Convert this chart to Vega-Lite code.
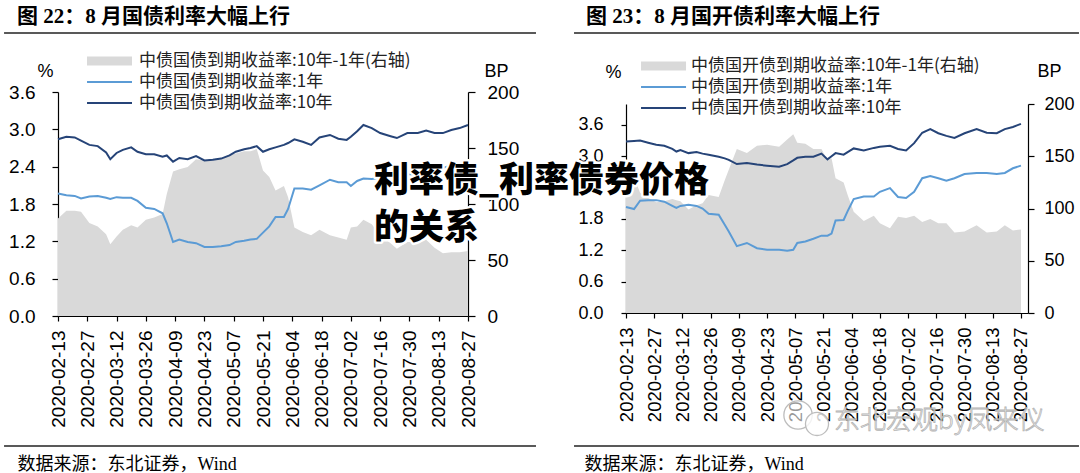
{
  "$schema": "https://vega.github.io/schema/vega-lite/v6.json",
  "background": "white",
  "padding": {"left": 3, "top": 6, "right": 0, "bottom": 0},
  "bounds": "flush",
  "spacing": 158,
  "config": {
    "view": {"stroke": null},
    "font": "Liberation Sans",
    "axis": {"grid": false, "domainColor": "#000", "tickColor": "#000", "labelColor": "#000", "labelFont": "Liberation Sans", "domainWidth": 1.2, "tickWidth": 1.2, "labelOverlap": false, "tickCount": 30},
    "axisX": {"labelOverlap": false, "labelFlush": false, "labelAngle": 270}
  },
  "datasets": {
    "gz": [
      {"d": "2020-02-13", "y1": 1.97, "y10": 2.84, "sp": 87},
      {"d": "2020-02-17", "y1": 1.94, "y10": 2.88, "sp": 94},
      {"d": "2020-02-21", "y1": 1.93, "y10": 2.87, "sp": 94},
      {"d": "2020-02-24", "y1": 1.89, "y10": 2.82, "sp": 93},
      {"d": "2020-02-28", "y1": 1.92, "y10": 2.75, "sp": 83},
      {"d": "2020-03-03", "y1": 1.93, "y10": 2.73, "sp": 80},
      {"d": "2020-03-07", "y1": 1.90, "y10": 2.63, "sp": 73},
      {"d": "2020-03-09", "y1": 1.88, "y10": 2.52, "sp": 64},
      {"d": "2020-03-12", "y1": 1.91, "y10": 2.62, "sp": 71},
      {"d": "2020-03-15", "y1": 1.90, "y10": 2.67, "sp": 77},
      {"d": "2020-03-19", "y1": 1.90, "y10": 2.71, "sp": 81},
      {"d": "2020-03-22", "y1": 1.85, "y10": 2.64, "sp": 79},
      {"d": "2020-03-26", "y1": 1.74, "y10": 2.60, "sp": 86},
      {"d": "2020-03-30", "y1": 1.72, "y10": 2.60, "sp": 88},
      {"d": "2020-04-03", "y1": 1.65, "y10": 2.56, "sp": 91},
      {"d": "2020-04-05", "y1": 1.49, "y10": 2.58, "sp": 109},
      {"d": "2020-04-08", "y1": 1.19, "y10": 2.48, "sp": 129},
      {"d": "2020-04-11", "y1": 1.23, "y10": 2.54, "sp": 131},
      {"d": "2020-04-15", "y1": 1.19, "y10": 2.52, "sp": 133},
      {"d": "2020-04-19", "y1": 1.17, "y10": 2.57, "sp": 140},
      {"d": "2020-04-23", "y1": 1.11, "y10": 2.50, "sp": 139},
      {"d": "2020-04-27", "y1": 1.11, "y10": 2.51, "sp": 140},
      {"d": "2020-05-01", "y1": 1.12, "y10": 2.53, "sp": 141},
      {"d": "2020-05-05", "y1": 1.14, "y10": 2.58, "sp": 144},
      {"d": "2020-05-08", "y1": 1.19, "y10": 2.64, "sp": 145},
      {"d": "2020-05-12", "y1": 1.21, "y10": 2.68, "sp": 147},
      {"d": "2020-05-15", "y1": 1.23, "y10": 2.70, "sp": 147},
      {"d": "2020-05-18", "y1": 1.24, "y10": 2.73, "sp": 149},
      {"d": "2020-05-21", "y1": 1.34, "y10": 2.64, "sp": 130},
      {"d": "2020-05-24", "y1": 1.44, "y10": 2.68, "sp": 124},
      {"d": "2020-05-27", "y1": 1.59, "y10": 2.71, "sp": 112},
      {"d": "2020-05-31", "y1": 1.59, "y10": 2.75, "sp": 116},
      {"d": "2020-06-02", "y1": 1.72, "y10": 2.78, "sp": 106},
      {"d": "2020-06-05", "y1": 2.05, "y10": 2.84, "sp": 79},
      {"d": "2020-06-09", "y1": 2.05, "y10": 2.80, "sp": 75},
      {"d": "2020-06-13", "y1": 2.03, "y10": 2.75, "sp": 72},
      {"d": "2020-06-17", "y1": 2.10, "y10": 2.87, "sp": 77},
      {"d": "2020-06-22", "y1": 2.19, "y10": 2.91, "sp": 72},
      {"d": "2020-06-26", "y1": 2.15, "y10": 2.85, "sp": 70},
      {"d": "2020-06-30", "y1": 2.15, "y10": 2.83, "sp": 68},
      {"d": "2020-07-02", "y1": 2.09, "y10": 2.88, "sp": 79},
      {"d": "2020-07-05", "y1": 2.17, "y10": 2.97, "sp": 80},
      {"d": "2020-07-08", "y1": 2.21, "y10": 3.07, "sp": 86},
      {"d": "2020-07-12", "y1": 2.20, "y10": 3.02, "sp": 82},
      {"d": "2020-07-16", "y1": 2.22, "y10": 2.94, "sp": 72},
      {"d": "2020-07-21", "y1": 2.24, "y10": 2.89, "sp": 65},
      {"d": "2020-07-24", "y1": 2.26, "y10": 2.86, "sp": 60},
      {"d": "2020-07-29", "y1": 2.28, "y10": 2.94, "sp": 66},
      {"d": "2020-08-03", "y1": 2.28, "y10": 2.94, "sp": 66},
      {"d": "2020-08-07", "y1": 2.30, "y10": 2.98, "sp": 68},
      {"d": "2020-08-11", "y1": 2.33, "y10": 2.94, "sp": 61},
      {"d": "2020-08-15", "y1": 2.38, "y10": 2.94, "sp": 56},
      {"d": "2020-08-19", "y1": 2.42, "y10": 2.99, "sp": 57},
      {"d": "2020-08-23", "y1": 2.45, "y10": 3.02, "sp": 57},
      {"d": "2020-08-27", "y1": 2.49, "y10": 3.07, "sp": 58}
    ],
    "gk": [
      {"d": "2020-02-13", "y1": 2.03, "y10": 3.28, "sp": 125},
      {"d": "2020-02-17", "y1": 1.99, "y10": 3.29, "sp": 130},
      {"d": "2020-02-20", "y1": 2.15, "y10": 3.30, "sp": 115},
      {"d": "2020-02-24", "y1": 2.16, "y10": 3.26, "sp": 110},
      {"d": "2020-02-28", "y1": 2.16, "y10": 3.22, "sp": 106},
      {"d": "2020-03-03", "y1": 2.13, "y10": 3.20, "sp": 107},
      {"d": "2020-03-07", "y1": 2.05, "y10": 3.14, "sp": 109},
      {"d": "2020-03-09", "y1": 2.01, "y10": 3.09, "sp": 108},
      {"d": "2020-03-11", "y1": 2.05, "y10": 3.12, "sp": 107},
      {"d": "2020-03-15", "y1": 2.07, "y10": 3.06, "sp": 99},
      {"d": "2020-03-19", "y1": 2.05, "y10": 3.08, "sp": 103},
      {"d": "2020-03-22", "y1": 2.00, "y10": 3.05, "sp": 105},
      {"d": "2020-03-25", "y1": 1.90, "y10": 3.03, "sp": 113},
      {"d": "2020-03-30", "y1": 1.88, "y10": 2.99, "sp": 111},
      {"d": "2020-04-02", "y1": 1.69, "y10": 2.96, "sp": 127},
      {"d": "2020-04-04", "y1": 1.56, "y10": 2.93, "sp": 137},
      {"d": "2020-04-08", "y1": 1.28, "y10": 2.85, "sp": 157},
      {"d": "2020-04-13", "y1": 1.34, "y10": 2.87, "sp": 153},
      {"d": "2020-04-18", "y1": 1.24, "y10": 2.84, "sp": 160},
      {"d": "2020-04-23", "y1": 1.21, "y10": 2.82, "sp": 161},
      {"d": "2020-04-29", "y1": 1.21, "y10": 2.80, "sp": 159},
      {"d": "2020-05-03", "y1": 1.19, "y10": 2.85, "sp": 166},
      {"d": "2020-05-06", "y1": 1.21, "y10": 2.92, "sp": 171},
      {"d": "2020-05-08", "y1": 1.34, "y10": 2.97, "sp": 163},
      {"d": "2020-05-12", "y1": 1.37, "y10": 2.99, "sp": 162},
      {"d": "2020-05-16", "y1": 1.42, "y10": 2.99, "sp": 157},
      {"d": "2020-05-20", "y1": 1.48, "y10": 3.05, "sp": 157},
      {"d": "2020-05-23", "y1": 1.48, "y10": 2.94, "sp": 146},
      {"d": "2020-05-25", "y1": 1.52, "y10": 3.00, "sp": 148},
      {"d": "2020-05-27", "y1": 1.77, "y10": 3.06, "sp": 129},
      {"d": "2020-05-31", "y1": 1.78, "y10": 3.03, "sp": 125},
      {"d": "2020-06-02", "y1": 1.95, "y10": 3.08, "sp": 113},
      {"d": "2020-06-05", "y1": 2.18, "y10": 3.15, "sp": 97},
      {"d": "2020-06-10", "y1": 2.23, "y10": 3.11, "sp": 88},
      {"d": "2020-06-15", "y1": 2.23, "y10": 3.16, "sp": 93},
      {"d": "2020-06-18", "y1": 2.32, "y10": 3.18, "sp": 86},
      {"d": "2020-06-23", "y1": 2.39, "y10": 3.20, "sp": 81},
      {"d": "2020-06-27", "y1": 2.22, "y10": 3.14, "sp": 92},
      {"d": "2020-07-01", "y1": 2.20, "y10": 3.11, "sp": 91},
      {"d": "2020-07-05", "y1": 2.32, "y10": 3.25, "sp": 93},
      {"d": "2020-07-09", "y1": 2.58, "y10": 3.45, "sp": 87},
      {"d": "2020-07-13", "y1": 2.62, "y10": 3.52, "sp": 90},
      {"d": "2020-07-17", "y1": 2.58, "y10": 3.44, "sp": 86},
      {"d": "2020-07-21", "y1": 2.53, "y10": 3.39, "sp": 86},
      {"d": "2020-07-25", "y1": 2.58, "y10": 3.35, "sp": 77},
      {"d": "2020-07-30", "y1": 2.66, "y10": 3.44, "sp": 78},
      {"d": "2020-08-05", "y1": 2.68, "y10": 3.52, "sp": 84},
      {"d": "2020-08-10", "y1": 2.68, "y10": 3.45, "sp": 77},
      {"d": "2020-08-15", "y1": 2.66, "y10": 3.44, "sp": 78},
      {"d": "2020-08-19", "y1": 2.68, "y10": 3.52, "sp": 84},
      {"d": "2020-08-23", "y1": 2.77, "y10": 3.56, "sp": 79},
      {"d": "2020-08-27", "y1": 2.82, "y10": 3.62, "sp": 80}
    ]
  },
  "hconcat": [
    {
      "width": 410,
      "height": 224,
      "resolve": {"scale": {"y": "independent"}},
      "layer": [
        {
          "data": {"name": "gz"},
          "mark": {"type": "area", "interpolate": "linear", "color": "#d9d9d9"},
          "encoding": {
            "x": {
              "field": "d", "type": "temporal",
              "scale": {"type": "utc", "domain": [{"year": 2020, "month": 2, "date": 13, "utc": true}, {"year": 2020, "month": 8, "date": 27, "utc": true}]},
              "axis": {
                "values": [
                  {"year": 2020, "month": 2, "date": 13, "utc": true}, {"year": 2020, "month": 2, "date": 27, "utc": true},
                  {"year": 2020, "month": 3, "date": 12, "utc": true}, {"year": 2020, "month": 3, "date": 26, "utc": true},
                  {"year": 2020, "month": 4, "date": 9, "utc": true}, {"year": 2020, "month": 4, "date": 23, "utc": true},
                  {"year": 2020, "month": 5, "date": 7, "utc": true}, {"year": 2020, "month": 5, "date": 21, "utc": true},
                  {"year": 2020, "month": 6, "date": 4, "utc": true}, {"year": 2020, "month": 6, "date": 18, "utc": true},
                  {"year": 2020, "month": 7, "date": 2, "utc": true}, {"year": 2020, "month": 7, "date": 16, "utc": true},
                  {"year": 2020, "month": 7, "date": 30, "utc": true}, {"year": 2020, "month": 8, "date": 13, "utc": true},
                  {"year": 2020, "month": 8, "date": 27, "utc": true}
                ],
                "tickCount": 30,
                "format": "%Y-%m-%d", "labelAngle": 270, "labelFontSize": 19, "labelPadding": 9, "tickSize": 5,
                "labelOverlap": false, "labelFlush": false,
                "title": "数据来源：东北证券，Wind", "titleFont": "Liberation Serif, Noto Sans CJK SC", "titleFontSize": 18, "titleFontWeight": "normal", "titleColor": "#000",
                "titleAnchor": "start", "titleAlign": "left", "titleBaseline": "middle", "titleX": -41, "titleY": 148
              }
            },
            "y": {
              "field": "sp", "type": "quantitative",
              "scale": {"domain": [0, 200], "nice": false},
              "axis": {"orient": "right", "values": [0, 50, 100, 150, 200], "tickCount": 30, "labelFontSize": 19, "tickSize": 7, "labelPadding": 12, "labelOverlap": false,
                "title": "BP", "titleAngle": 0, "titleFont": "Liberation Sans", "titleFontSize": 18, "titleFontWeight": "normal", "titleColor": "#000",
                "titleAlign": "center", "titleBaseline": "middle", "titleX": 28, "titleY": -21}
            }
          }
        },
        {
          "layer": [
            {
              "data": {"name": "gz"},
              "transform": [{"fold": ["y1", "y10"], "as": ["s", "v"]}],
              "mark": {"type": "line", "strokeWidth": 2},
              "encoding": {
                "x": {"field": "d", "type": "temporal", "scale": {"type": "utc"}, "axis": {"labelOverlap": false, "tickCount": 30}},
                "y": {
                  "field": "v", "type": "quantitative", "scale": {"domain": [0, 3.6], "nice": false},
                  "axis": {"orient": "left", "values": [0, 0.6, 1.2, 1.8, 2.4, 3.0, 3.6], "tickCount": 30, "format": ".1f", "labelFontSize": 19, "tickSize": 6, "labelPadding": 17, "labelOverlap": false,
                    "title": "%", "titleAngle": 0, "titleFont": "Liberation Sans", "titleFontSize": 18, "titleFontWeight": "normal", "titleColor": "#000",
                    "titleAlign": "center", "titleBaseline": "middle", "titleX": -13, "titleY": -21}
                },
                "color": {"field": "s", "type": "nominal", "scale": {"domain": ["y1", "y10"], "range": ["#5b9bd5", "#264478"]}, "legend": null}
              }
            },
            {
              "data": {"values": [{}]},
              "mark": {"type": "rule", "color": "#222", "strokeWidth": 1.5},
              "encoding": {
                "x": {"datum": {"year": 2020, "month": 1, "date": 18, "hours": 5, "utc": true}, "type": "temporal", "scale": {"type": "utc"}},
                "x2": {"datum": {"year": 2020, "month": 9, "date": 28, "hours": 12, "utc": true}},
                "y": {"datum": 4.548}
              }
            },
            {
              "data": {"values": [{}]},
              "mark": {"type": "rule", "color": "#222", "strokeWidth": 1.5},
              "encoding": {
                "x": {"datum": {"year": 2020, "month": 1, "date": 18, "hours": 5, "utc": true}, "type": "temporal", "scale": {"type": "utc"}},
                "x2": {"datum": {"year": 2020, "month": 9, "date": 28, "hours": 12, "utc": true}},
                "y": {"datum": -2.089}
              }
            },
            {
              "data": {"values": [{}]},
              "mark": {"type": "text", "text": "图 22：8 月国债利率大幅上行", "align": "left", "baseline": "middle", "font": "Liberation Serif, Noto Sans CJK SC", "fontWeight": "bold", "fontSize": 21, "color": "#000"},
              "encoding": {
                "x": {"datum": {"year": 2020, "month": 1, "date": 24, "hours": 10, "utc": true}, "type": "temporal", "scale": {"type": "utc"}},
                "y": {"datum": 4.805}
              }
            },
            {
              "data": {"values": [{}]},
              "mark": {"type": "rule", "color": "#d9d9d9", "strokeWidth": 9, "strokeCap": "butt"},
              "encoding": {
                "x": {"datum": {"year": 2020, "month": 2, "date": 26, "hours": 21, "utc": true}, "type": "temporal", "scale": {"type": "utc"}},
                "x2": {"datum": {"year": 2020, "month": 3, "date": 19, "hours": 9, "utc": true}},
                "y": {"datum": 4.098}
              }
            },
            {
              "data": {"values": [{}]},
              "mark": {"type": "rule", "color": "#5b9bd5", "strokeWidth": 2},
              "encoding": {
                "x": {"datum": {"year": 2020, "month": 2, "date": 26, "hours": 21, "utc": true}, "type": "temporal", "scale": {"type": "utc"}},
                "x2": {"datum": {"year": 2020, "month": 3, "date": 19, "hours": 9, "utc": true}},
                "y": {"datum": 3.761}
              }
            },
            {
              "data": {"values": [{}]},
              "mark": {"type": "rule", "color": "#264478", "strokeWidth": 2},
              "encoding": {
                "x": {"datum": {"year": 2020, "month": 2, "date": 26, "hours": 21, "utc": true}, "type": "temporal", "scale": {"type": "utc"}},
                "x2": {"datum": {"year": 2020, "month": 3, "date": 19, "hours": 9, "utc": true}},
                "y": {"datum": 3.423}
              }
            },
            {
              "data": {"values": [{}]},
              "mark": {"type": "text", "text": "中债国债到期收益率:10年-1年(右轴)", "align": "left", "baseline": "middle", "font": "Noto Sans CJK SC", "fontSize": 17, "color": "#222"},
              "encoding": {
                "x": {"datum": {"year": 2020, "month": 3, "date": 22, "hours": 17, "utc": true}, "type": "temporal", "scale": {"type": "utc"}},
                "y": {"datum": 4.098}
              }
            },
            {
              "data": {"values": [{}]},
              "mark": {"type": "text", "text": "中债国债到期收益率:1年", "align": "left", "baseline": "middle", "font": "Noto Sans CJK SC", "fontSize": 17, "color": "#222"},
              "encoding": {
                "x": {"datum": {"year": 2020, "month": 3, "date": 22, "hours": 17, "utc": true}, "type": "temporal", "scale": {"type": "utc"}},
                "y": {"datum": 3.761}
              }
            },
            {
              "data": {"values": [{}]},
              "mark": {"type": "text", "text": "中债国债到期收益率:10年", "align": "left", "baseline": "middle", "font": "Noto Sans CJK SC", "fontSize": 17, "color": "#222"},
              "encoding": {
                "x": {"datum": {"year": 2020, "month": 3, "date": 22, "hours": 17, "utc": true}, "type": "temporal", "scale": {"type": "utc"}},
                "y": {"datum": 3.423}
              }
            }
          ]
        }
      ]
    },
    {
      "vconcat": [
        {
          "width": 402,
          "height": 12,
          "data": {"values": [{}]},
          "mark": {"type": "text", "text": ""},
          "encoding": {}
        },
        {
          "width": 402,
          "height": 209,
          "resolve": {"scale": {"y": "independent"}},
          "layer": [
            {
              "data": {"name": "gk"},
              "mark": {"type": "area", "interpolate": "linear", "color": "#d9d9d9"},
              "encoding": {
                "x": {
                  "field": "d", "type": "temporal",
                  "scale": {"type": "utc", "domain": [{"year": 2020, "month": 2, "date": 13, "utc": true}, {"year": 2020, "month": 8, "date": 30, "hours": 12, "utc": true}]},
                  "axis": {
                    "values": [
                      {"year": 2020, "month": 2, "date": 13, "utc": true}, {"year": 2020, "month": 2, "date": 27, "utc": true},
                      {"year": 2020, "month": 3, "date": 12, "utc": true}, {"year": 2020, "month": 3, "date": 26, "utc": true},
                      {"year": 2020, "month": 4, "date": 9, "utc": true}, {"year": 2020, "month": 4, "date": 23, "utc": true},
                      {"year": 2020, "month": 5, "date": 7, "utc": true}, {"year": 2020, "month": 5, "date": 21, "utc": true},
                      {"year": 2020, "month": 6, "date": 4, "utc": true}, {"year": 2020, "month": 6, "date": 18, "utc": true},
                      {"year": 2020, "month": 7, "date": 2, "utc": true}, {"year": 2020, "month": 7, "date": 16, "utc": true},
                      {"year": 2020, "month": 7, "date": 30, "utc": true}, {"year": 2020, "month": 8, "date": 13, "utc": true},
                      {"year": 2020, "month": 8, "date": 27, "utc": true}
                    ],
                    "tickCount": 30,
                    "format": "%Y-%m-%d", "labelAngle": 270, "labelFontSize": 18.5, "labelPadding": 9, "tickSize": 5,
                    "labelOverlap": false, "labelFlush": false,
                    "title": "数据来源：东北证券，Wind", "titleFont": "Liberation Serif, Noto Sans CJK SC", "titleFontSize": 18, "titleFontWeight": "normal", "titleColor": "#000",
                    "titleAnchor": "start", "titleAlign": "left", "titleBaseline": "middle", "titleX": -42, "titleY": 151
                  }
                },
                "y": {
                  "field": "sp", "type": "quantitative",
                  "scale": {"domain": [0, 200], "nice": false},
                  "axis": {"orient": "right", "values": [0, 50, 100, 150, 200], "tickCount": 30, "labelFontSize": 18, "tickSize": 6, "labelPadding": 10, "labelOverlap": false,
                    "title": "BP", "titleAngle": 0, "titleFont": "Liberation Sans", "titleFontSize": 18, "titleFontWeight": "normal", "titleColor": "#000",
                    "titleAlign": "center", "titleBaseline": "middle", "titleX": 21, "titleY": -33}
                }
              }
            },
            {
              "layer": [
                {
                  "data": {"name": "gk"},
                  "transform": [{"fold": ["y1", "y10"], "as": ["s", "v"]}],
                  "mark": {"type": "line", "strokeWidth": 2},
                  "encoding": {
                    "x": {"field": "d", "type": "temporal", "scale": {"type": "utc"}, "axis": {"labelOverlap": false, "tickCount": 30}},
                    "y": {
                      "field": "v", "type": "quantitative", "scale": {"domain": [0, 4], "nice": false},
                      "axis": {"orient": "left", "values": [0, 0.6, 1.2, 1.8, 2.4, 3.0, 3.6], "tickCount": 30, "format": ".1f", "labelFontSize": 18, "tickSize": 5, "labelPadding": 18, "labelOverlap": false,
                        "title": "%", "titleAngle": 0, "titleFont": "Liberation Sans", "titleFontSize": 18, "titleFontWeight": "normal", "titleColor": "#000",
                        "titleAlign": "center", "titleBaseline": "middle", "titleX": -13, "titleY": -32}
                    },
                    "color": {"field": "s", "type": "nominal", "scale": {"domain": ["y1", "y10"], "range": ["#5b9bd5", "#264478"]}, "legend": null}
                  }
                },
                {
                  "data": {"values": [{}]},
                  "mark": {"type": "rule", "color": "#222", "strokeWidth": 1.5},
                  "encoding": {
                    "x": {"datum": {"year": 2020, "month": 1, "date": 18, "hours": 5, "utc": true}, "type": "temporal", "scale": {"type": "utc"}},
                    "x2": {"datum": {"year": 2020, "month": 9, "date": 24, "hours": 19, "utc": true}},
                    "y": {"datum": 5.359}
                  }
                },
                {
                  "data": {"values": [{}]},
                  "mark": {"type": "rule", "color": "#222", "strokeWidth": 1.5},
                  "encoding": {
                    "x": {"datum": {"year": 2020, "month": 1, "date": 18, "hours": 5, "utc": true}, "type": "temporal", "scale": {"type": "utc"}},
                    "x2": {"datum": {"year": 2020, "month": 9, "date": 24, "hours": 19, "utc": true}},
                    "y": {"datum": -2.545}
                  }
                },
                {
                  "data": {"values": [{}]},
                  "mark": {"type": "text", "text": "图 23：8 月国开债利率大幅上行", "align": "left", "baseline": "middle", "font": "Liberation Serif, Noto Sans CJK SC", "fontWeight": "bold", "fontSize": 21, "color": "#000"},
                  "encoding": {
                    "x": {"datum": {"year": 2020, "month": 1, "date": 24, "hours": 4, "utc": true}, "type": "temporal", "scale": {"type": "utc"}},
                    "y": {"datum": 5.665}
                  }
                },
                {
                  "data": {"values": [{}]},
                  "mark": {"type": "rule", "color": "#d9d9d9", "strokeWidth": 9, "strokeCap": "butt"},
                  "encoding": {
                    "x": {"datum": {"year": 2020, "month": 2, "date": 20, "hours": 11, "utc": true}, "type": "temporal", "scale": {"type": "utc"}},
                    "x2": {"datum": {"year": 2020, "month": 3, "date": 13, "hours": 19, "utc": true}},
                    "y": {"datum": 4.727}
                  }
                },
                {
                  "data": {"values": [{}]},
                  "mark": {"type": "rule", "color": "#5b9bd5", "strokeWidth": 2},
                  "encoding": {
                    "x": {"datum": {"year": 2020, "month": 2, "date": 20, "hours": 11, "utc": true}, "type": "temporal", "scale": {"type": "utc"}},
                    "x2": {"datum": {"year": 2020, "month": 3, "date": 13, "hours": 19, "utc": true}},
                    "y": {"datum": 4.325}
                  }
                },
                {
                  "data": {"values": [{}]},
                  "mark": {"type": "rule", "color": "#264478", "strokeWidth": 2},
                  "encoding": {
                    "x": {"datum": {"year": 2020, "month": 2, "date": 20, "hours": 11, "utc": true}, "type": "temporal", "scale": {"type": "utc"}},
                    "x2": {"datum": {"year": 2020, "month": 3, "date": 13, "hours": 19, "utc": true}},
                    "y": {"datum": 3.923}
                  }
                },
                {
                  "data": {"values": [{}]},
                  "mark": {"type": "text", "text": "中债国开债到期收益率:10年-1年(右轴)", "align": "left", "baseline": "middle", "font": "Noto Sans CJK SC", "fontSize": 17, "color": "#222"},
                  "encoding": {
                    "x": {"datum": {"year": 2020, "month": 3, "date": 16, "hours": 6, "utc": true}, "type": "temporal", "scale": {"type": "utc"}},
                    "y": {"datum": 4.727}
                  }
                },
                {
                  "data": {"values": [{}]},
                  "mark": {"type": "text", "text": "中债国开债到期收益率:1年", "align": "left", "baseline": "middle", "font": "Noto Sans CJK SC", "fontSize": 17, "color": "#222"},
                  "encoding": {
                    "x": {"datum": {"year": 2020, "month": 3, "date": 16, "hours": 6, "utc": true}, "type": "temporal", "scale": {"type": "utc"}},
                    "y": {"datum": 4.325}
                  }
                },
                {
                  "data": {"values": [{}]},
                  "mark": {"type": "text", "text": "中债国开债到期收益率:10年", "align": "left", "baseline": "middle", "font": "Noto Sans CJK SC", "fontSize": 17, "color": "#222"},
                  "encoding": {
                    "x": {"datum": {"year": 2020, "month": 3, "date": 16, "hours": 6, "utc": true}, "type": "temporal", "scale": {"type": "utc"}},
                    "y": {"datum": 3.923}
                  }
                },
                {
                  "data": {"values": [{}]},
                  "mark": {"type": "point", "shape": "circle", "size": 804, "filled": true, "fill": "#ffffff", "fillOpacity": 0.6, "stroke": "#bdbdbd", "strokeWidth": 1.3},
                  "encoding": {
                    "x": {"datum": {"year": 2020, "month": 5, "date": 8, "hours": 9, "utc": true}, "type": "temporal", "scale": {"type": "utc"}},
                    "y": {"datum": -1.952}
                  }
                },
                {
                  "data": {"values": [{}]},
                  "mark": {"type": "point", "shape": "circle", "size": 531, "filled": true, "fill": "#ffffff", "fillOpacity": 0.8, "stroke": "#bdbdbd", "strokeWidth": 1.3},
                  "encoding": {
                    "x": {"datum": {"year": 2020, "month": 5, "date": 17, "hours": 19, "utc": true}, "type": "temporal", "scale": {"type": "utc"}},
                    "y": {"datum": -2.124}
                  }
                },
                {
                  "data": {"values": [{}]},
                  "mark": {"type": "text", "text": "东北宏观by凤来仪", "align": "left", "baseline": "middle", "font": "Noto Sans CJK SC", "fontWeight": 300, "fontSize": 26, "color": "#ffffff", "fillOpacity": 0.6, "stroke": "#b4b4b4", "strokeWidth": 0.8},
                  "encoding": {
                    "x": {"datum": {"year": 2020, "month": 5, "date": 26, "hours": 5, "utc": true}, "type": "temporal", "scale": {"type": "utc"}},
                    "y": {"datum": -2.067}
                  }
                },
                {
                  "data": {"values": [{}]},
                  "mark": {"type": "text", "text": "利率债_利率债券价格", "align": "left", "baseline": "middle", "font": "Noto Sans CJK SC", "fontWeight": 900, "fontSize": 35, "color": "white", "stroke": "white", "strokeWidth": 5, "strokeJoin": "round"},
                  "encoding": {
                    "x": {"datum": {"year": 2019, "month": 10, "date": 10, "hours": 22, "utc": true}, "type": "temporal", "scale": {"type": "utc"}},
                    "y": {"datum": 2.526}
                  }
                },
                {
                  "data": {"values": [{}]},
                  "mark": {"type": "text", "text": "的关系", "align": "left", "baseline": "middle", "font": "Noto Sans CJK SC", "fontWeight": 900, "fontSize": 35, "color": "white", "stroke": "white", "strokeWidth": 5, "strokeJoin": "round"},
                  "encoding": {
                    "x": {"datum": {"year": 2019, "month": 10, "date": 10, "hours": 22, "utc": true}, "type": "temporal", "scale": {"type": "utc"}},
                    "y": {"datum": 1.627}
                  }
                },
                {
                  "data": {"values": [{}]},
                  "mark": {"type": "text", "text": "利率债_利率债券价格", "align": "left", "baseline": "middle", "font": "Noto Sans CJK SC", "fontWeight": 900, "fontSize": 35, "color": "#000"},
                  "encoding": {
                    "x": {"datum": {"year": 2019, "month": 10, "date": 10, "hours": 22, "utc": true}, "type": "temporal", "scale": {"type": "utc"}},
                    "y": {"datum": 2.526}
                  }
                },
                {
                  "data": {"values": [{}]},
                  "mark": {"type": "text", "text": "的关系", "align": "left", "baseline": "middle", "font": "Noto Sans CJK SC", "fontWeight": 900, "fontSize": 35, "color": "#000"},
                  "encoding": {
                    "x": {"datum": {"year": 2019, "month": 10, "date": 10, "hours": 22, "utc": true}, "type": "temporal", "scale": {"type": "utc"}},
                    "y": {"datum": 1.627}
                  }
                }
              ]
            }
          ]
        }
      ],
      "spacing": 0,
      "bounds": "flush"
    }
  ]
}
